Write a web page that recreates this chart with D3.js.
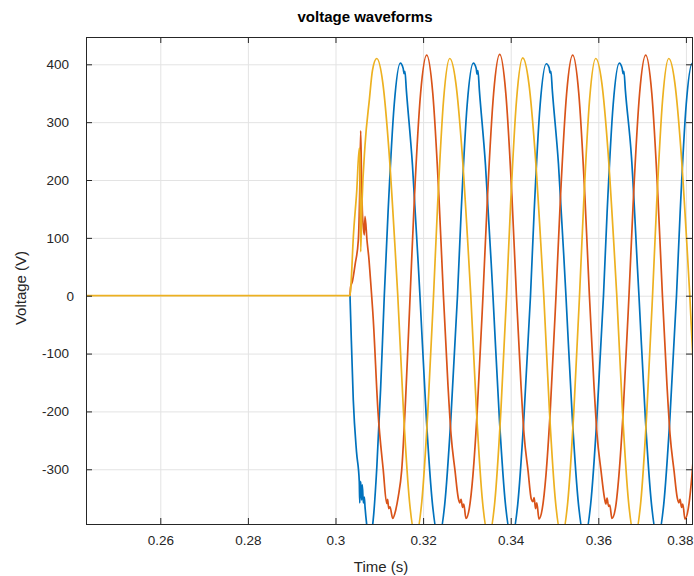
<!DOCTYPE html>
<html><head><meta charset="utf-8">
<script src="https://cdn.jsdelivr.net/npm/d3@7"></script>
<style>
body{margin:0;background:#fff}
text{font-family:"Liberation Sans",Arial,Helvetica,sans-serif}
</style>
</head><body><svg id="c" width="694" height="576"></svg>
<script>
// ---- data ----
const xTicks = [0.26, 0.28, 0.30, 0.32, 0.34, 0.36, 0.38];
const xTickLabels = ["0.26", "0.28", "0.3", "0.32", "0.34", "0.36", "0.38"];
const yTicks = [-300, -200, -100, 0, 100, 200, 300, 400];
const yTickLabels = ["-300", "-200", "-100", "0", "100", "200", "300", "400"];
const xDomain = [0.24304, 0.38139];
const yDomain = [-394.6, 447.2];
const titleText = "voltage waveforms";
const xLabelText = "Time (s)";
const yLabelText = "Voltage (V)";

const tBlue = [0.30331, 0.30347, 0.30406, 0.30480, 0.30543, 0.30553, 0.30575, 0.30597, 0.30612, 0.30636, 0.30658, 0.30674, 0.30720, 0.30772, 0.30860, 0.30943, 0.31030, 0.31114, 0.31200, 0.31340, 0.31479,
  0.31545, 0.31565, 0.31585, 0.31618, 0.31757, 0.31896, 0.31928, 0.32076, 0.32215, 0.32354, 0.32493, 0.32632, 0.32785, 0.32868, 0.33007, 0.33146,
  0.33212, 0.33232, 0.33252, 0.33285, 0.33424, 0.33563, 0.33595, 0.33743, 0.33882, 0.34021, 0.34160, 0.34299, 0.34452, 0.34534, 0.34673, 0.34812,
  0.34878, 0.34898, 0.34918, 0.34951, 0.35090, 0.35229, 0.35261, 0.35409, 0.35548, 0.35687, 0.35826, 0.35965, 0.36118, 0.36201, 0.36340, 0.36479,
  0.36545, 0.36565, 0.36585, 0.36618, 0.36757, 0.36896, 0.36928, 0.37076, 0.37215, 0.37354, 0.37493, 0.37632, 0.37785, 0.37868, 0.38007, 0.38146,
  0.38285];
const vBlue = [0, -40, -180, -270, -321, -358, -321, -353, -327, -358, -348, -365, -400, -420, -388, -297, -161, 0, 144, 330, 402,
  393, 384, 388, 355, 226, 45, 0, -215, -361, -418, -361, -215, 0, 143, 331, 402,
  393, 383, 389, 355, 226, 45, 0, -215, -362, -417, -361, -214, 0, 143, 331, 401,
  394, 385, 388, 354, 228, 45, 0, -215, -361, -418, -360, -215, 0, 144, 331, 402,
  393, 384, 388, 355, 240, 45, 0, -215, -361, -418, -361, -215, 0, 143, 331, 402,
  355];

const tRed = [0.30331, 0.30347, 0.30384, 0.30450, 0.30521, 0.30553, 0.30575, 0.30595, 0.30612, 0.30640, 0.30658, 0.30674, 0.30720, 0.30765, 0.30788, 0.30863, 0.30970, 0.31091, 0.31169, 0.31190, 0.31215, 0.31244, 0.31306, 0.31370, 0.31434, 0.31511, 0.31600, 0.31704, 0.31804, 0.31943, 0.32082,
  0.32221, 0.32360, 0.32464, 0.32568, 0.32638, 0.32728, 0.32804, 0.32839, 0.32867, 0.32901, 0.32929, 0.32978, 0.33054, 0.33138, 0.33235, 0.33367, 0.33471, 0.33610, 0.33749,
  0.33888, 0.34027, 0.34131, 0.34235, 0.34305, 0.34395, 0.34471, 0.34506, 0.34534, 0.34568, 0.34596, 0.34645, 0.34721, 0.34805, 0.34902, 0.35034, 0.35138, 0.35277, 0.35415,
  0.35554, 0.35693, 0.35797, 0.35901, 0.35971, 0.36061, 0.36137, 0.36172, 0.36200, 0.36234, 0.36262, 0.36311, 0.36387, 0.36471, 0.36568, 0.36700, 0.36804, 0.36943, 0.37082,
  0.37221, 0.37360, 0.37464, 0.37568, 0.37638, 0.37728, 0.37804, 0.37839, 0.37867, 0.37901, 0.37929, 0.37978, 0.38054, 0.38138, 0.38235];
const vRed = [0, 16, 24, 55, 96, 180, 285, 200, 148, 115, 105, 137, 95, 62, 39, -42, -200, -302, -359, -352, -368, -365, -385, -372, -347, -302, -180, 0, 173, 350, 416,
  350, 173, 0, -155, -240, -302, -350, -358, -352, -366, -360, -385, -368, -310, -200, 0, 173, 350, 417,
  350, 173, 0, -155, -240, -302, -352, -356, -349, -368, -358, -386, -368, -310, -200, 0, 173, 350, 416,
  350, 173, 0, -155, -240, -302, -348, -360, -350, -364, -362, -385, -369, -310, -200, 0, 173, 350, 416,
  350, 173, 0, -155, -240, -302, -350, -358, -352, -366, -360, -386, -368, -310, -200];

const tYellow = [0.24304, 0.30331, 0.30354, 0.30406, 0.30484, 0.30543, 0.30557, 0.30575, 0.30605, 0.30674, 0.30772, 0.30845, 0.30941,
  0.31080, 0.31219, 0.31358, 0.31422, 0.31552, 0.31691, 0.31830, 0.31969, 0.32108, 0.32238, 0.32330, 0.32469, 0.32608,
  0.32747, 0.32886, 0.33025, 0.33089, 0.33219, 0.33358, 0.33497, 0.33636, 0.33775, 0.33905, 0.33996, 0.34135, 0.34274,
  0.34413, 0.34552, 0.34691, 0.34755, 0.34885, 0.35024, 0.35163, 0.35302, 0.35441, 0.35571, 0.35663, 0.35802, 0.35941,
  0.36080, 0.36219, 0.36358, 0.36422, 0.36552, 0.36691, 0.36830, 0.36969, 0.37108, 0.37238, 0.37330, 0.37469, 0.37608,
  0.37747, 0.37886, 0.38025, 0.38089, 0.38219];
const vYellow = [0, 0, 20, 100, 180, 255, 240, 76, 160, 260, 338, 390, 410,
  368, 252, 85, 0, -200, -357, -415, -357, -200, 0, 155, 340, 410,
  368, 252, 85, 0, -200, -357, -415, -357, -200, 0, 155, 340, 411,
  368, 252, 85, 0, -200, -357, -415, -357, -200, 0, 155, 340, 410,
  368, 252, 85, 0, -200, -357, -415, -357, -200, 0, 155, 340, 410,
  368, 252, 85, 0, -200];

const seriesNames = ["Phase A", "Phase B", "Phase C"];
const seriesColors = ["#0072BD", "#D95319", "#EDB120"];

// ---- layout ----
const L = 86, R = 692, T = 37, B = 524;
const ink = "#262626";

const x = d3.scaleLinear().domain(xDomain).range([L, R]);
const y = d3.scaleLinear().domain(yDomain).range([B, T]);
const svg = d3.select("#c");

const series = [[tBlue, vBlue], [tRed, vRed], [tYellow, vYellow]].map(([t, v], i) => {
  if (t.length !== v.length) throw new Error("length mismatch " + seriesNames[i] + " " + t.length + " vs " + v.length);
  return { name: seriesNames[i], color: seriesColors[i], pts: t.map((d, j) => [d, v[j]]) };
});

svg.append("rect").attr("x", L).attr("y", T).attr("width", R - L).attr("height", B - T).attr("fill", "#fff");

// grid
svg.append("g").attr("transform", `translate(0,${B})`)
  .call(d3.axisBottom(x).tickValues(xTicks).tickSize(-(B - T)).tickFormat(""))
  .call(g => { g.select(".domain").remove(); g.selectAll("line").attr("stroke", "#e3e3e3").attr("stroke-width", 1); });
svg.append("g").attr("transform", `translate(${L},0)`)
  .call(d3.axisLeft(y).tickValues(yTicks).tickSize(-(R - L)).tickFormat(""))
  .call(g => { g.select(".domain").remove(); g.selectAll("line").attr("stroke", "#e3e3e3").attr("stroke-width", 1); });

// lines
svg.append("clipPath").attr("id", "clip").append("rect")
  .attr("x", L).attr("y", T).attr("width", R - L).attr("height", B - T);
const line = d3.line().x(d => x(d[0])).y(d => y(d[1])).curve(d3.curveMonotoneX);
svg.append("g").attr("clip-path", "url(#clip)")
  .selectAll("path").data(series).join("path")
  .attr("d", d => line(d.pts))
  .attr("fill", "none")
  .attr("stroke", d => d.color)
  .attr("stroke-width", 1.7)
  .attr("stroke-linejoin", "round");

// axes with inward ticks
const tk = 6;
const fs = 13.5;
const gx = svg.append("g").attr("transform", `translate(0,${B})`)
  .call(d3.axisBottom(x).tickValues(xTicks).tickSizeInner(-tk).tickSizeOuter(0).tickPadding(11)
    .tickFormat((d, i) => xTickLabels[i]));
const gy = svg.append("g").attr("transform", `translate(${L},0)`)
  .call(d3.axisLeft(y).tickValues(yTicks).tickSizeInner(-tk).tickSizeOuter(0).tickPadding(17)
    .tickFormat((d, i) => yTickLabels[i]));
const gt = svg.append("g").attr("transform", `translate(0,${T})`)
  .call(d3.axisTop(x).tickValues(xTicks).tickSizeInner(-tk).tickSizeOuter(0).tickFormat(""));
const gr = svg.append("g").attr("transform", `translate(${R},0)`)
  .call(d3.axisRight(y).tickValues(yTicks).tickSizeInner(-tk).tickSizeOuter(0).tickFormat(""));
[gx, gy, gt, gr].forEach(g => {
  g.select(".domain").remove();
  g.selectAll("line").attr("stroke", ink);
  g.selectAll("text").attr("fill", ink).style("font-size", fs + "px").attr("font-family", null);
});
gy.selectAll(".tick text").filter(d => d === 0).attr("dx", 5);
// keep the last x label inside the page
gx.selectAll(".tick text").filter(d => d === xTicks[xTicks.length - 1])
  .attr("text-anchor", "end").attr("dx", (693 - x(xTicks[xTicks.length - 1])) + "px");

// frame
svg.append("rect").attr("x", L).attr("y", T).attr("width", R - L).attr("height", B - T)
  .attr("fill", "none").attr("stroke", ink).attr("stroke-width", 1)
  .attr("shape-rendering", "crispEdges");

// labels
svg.append("text").attr("x", 365).attr("y", 22).attr("text-anchor", "middle")
  .attr("fill", "#000").style("font-size", "15px").style("font-weight", "bold").text(titleText);
svg.append("text").attr("x", 381).attr("y", 572).attr("text-anchor", "middle")
  .attr("fill", ink).style("font-size", "15px").text(xLabelText);
svg.append("text").attr("transform", "translate(26,288) rotate(-90)").attr("text-anchor", "middle")
  .attr("fill", ink).style("font-size", "15px").text(yLabelText);
</script>
</body></html>
